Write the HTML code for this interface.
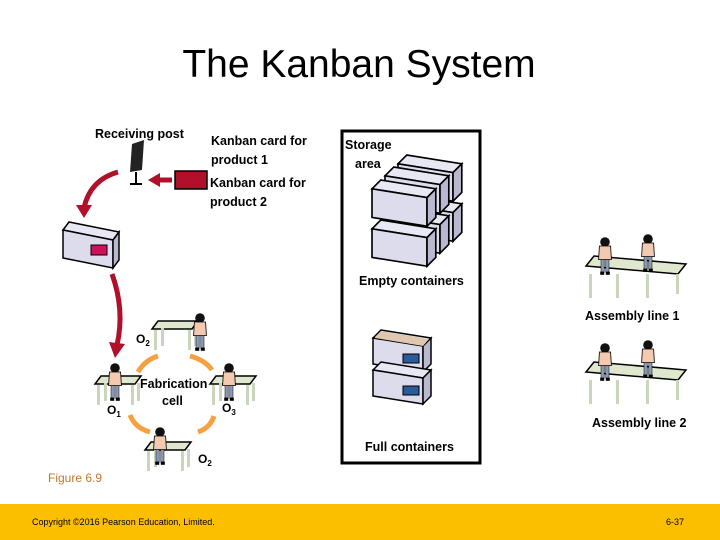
<!DOCTYPE html>
<html><head><meta charset="utf-8"><style>
html,body{margin:0;padding:0;background:#fff}
body{width:720px;height:540px;overflow:hidden;position:relative;font-family:"Liberation Sans",sans-serif}
svg{position:absolute;left:0;top:0}
</style></head><body>
<svg width="720" height="540" viewBox="0 0 720 540" xmlns="http://www.w3.org/2000/svg" font-family="Liberation Sans, sans-serif">
<defs>
<g id="box">
<polygon points="0,8 8,0 58,8 50,16" fill="#e8e8f4" stroke="#000" stroke-width="1.5"/>
<polygon points="0,8 50,16 50,42 0,34" fill="#dcdcec" stroke="#000" stroke-width="1.5"/>
<polygon points="50,16 58,8 58,34 50,42" fill="#b8b8d0" stroke="#000" stroke-width="1.5"/>
</g>
<g id="table">
<polygon points="0,14 6,6 46,6 40,14" fill="#dfe8cf" stroke="#000" stroke-width="1.5"/>
<rect x="2" y="15" width="3" height="20" fill="#c9d6bb"/><rect x="36" y="15" width="3" height="20" fill="#c9d6bb"/>
<rect x="9" y="13" width="3" height="18" fill="#c9d6bb"/><rect x="42" y="13" width="3" height="18" fill="#c9d6bb"/>
</g>
<g id="worker">
<circle cx="0" cy="0" r="6" fill="#111"/>
<path d="M-7,5 L7,5 L8,22 L-8,22Z" fill="#f3c9b0" stroke="#000"/>
<rect x="-5" y="22" width="4" height="16" fill="#8a9ab8" stroke="#000" stroke-width=".6"/>
<rect x="1" y="22" width="4" height="16" fill="#8a9ab8" stroke="#000" stroke-width=".6"/>
<rect x="-6" y="37" width="5" height="4" fill="#000"/><rect x="1" y="37" width="5" height="4" fill="#000"/>
</g>
</defs>
<text x="359" y="77" font-size="39" text-anchor="middle" fill="#000">The Kanban System</text>
<g font-size="12.5" font-weight="bold" fill="#000">
<text x="95" y="138">Receiving post</text>
<text x="211" y="145">Kanban card for</text>
<text x="211" y="164">product 1</text>
<text x="210" y="187">Kanban card for</text>
<text x="210" y="206">product 2</text>
<text x="345" y="149">Storage</text>
<text x="355" y="168">area</text>
<text x="359" y="285">Empty containers</text>
<text x="585" y="320">Assembly line 1</text>
<text x="592" y="427">Assembly line 2</text>
<text x="365" y="451">Full containers</text>
<text x="140" y="388">Fabrication</text>
<text x="162" y="405">cell</text>
<text x="136" y="343" font-size="12">O<tspan font-size="8" dy="3">2</tspan></text>
<text x="107" y="414" font-size="12">O<tspan font-size="8" dy="3">1</tspan></text>
<text x="222" y="412" font-size="12">O<tspan font-size="8" dy="3">3</tspan></text>
<text x="198" y="463" font-size="12">O<tspan font-size="8" dy="3">2</tspan></text>
</g>
<text x="48" y="482" font-size="12" fill="#c07830">Figure 6.9</text>
<g transform="translate(128,140)">
<polygon points="4,4 16,0 14,30 2,32" fill="#222"/>
<line x1="8" y1="32" x2="8" y2="44" stroke="#000" stroke-width="2"/>
<line x1="2" y1="44" x2="14" y2="44" stroke="#000" stroke-width="2"/>
</g>
<rect x="175" y="171" width="32" height="18" fill="#b0102a" stroke="#000" stroke-width="1.5"/>
<path d="M172,180 L158,180" stroke="#b0102a" stroke-width="5"/>
<polygon points="148,180 160,173 160,187" fill="#b0102a"/>
<path d="M118,172 Q90,180 84,208" fill="none" stroke="#b0102a" stroke-width="5"/>
<polygon points="76,205 92,205 84,218" fill="#b0102a"/>
<path d="M112,274 Q125,310 117,345" fill="none" stroke="#b0102a" stroke-width="5"/>
<polygon points="109,342 125,344 115,358" fill="#b0102a"/>
<g transform="translate(63,220)">
<polygon points="0,10 6,2 56,12 50,20" fill="#e8e8f4" stroke="#000" stroke-width="1.5"/>
<polygon points="0,10 50,20 50,48 0,38" fill="#dcdcec" stroke="#000" stroke-width="1.5"/>
<polygon points="50,20 56,12 56,40 50,48" fill="#b8b8d0" stroke="#000" stroke-width="1.5"/>
<rect x="28" y="25" width="16" height="10" fill="#d0105a" stroke="#000"/>
</g>
<rect x="342" y="131" width="138" height="332" fill="none" stroke="#000" stroke-width="3"/>
<g transform="translate(398,155) scale(1.1)"><use href="#box"/></g>
<g transform="translate(398,195) scale(1.1)"><use href="#box"/></g>
<g transform="translate(385,167) scale(1.1)"><use href="#box"/></g>
<g transform="translate(385,207) scale(1.1)"><use href="#box"/></g>
<g transform="translate(372,180) scale(1.1)"><use href="#box"/></g>
<g transform="translate(372,220) scale(1.1)"><use href="#box"/></g>
<g transform="translate(373,330)"><use href="#box"/><rect x="30" y="24" width="16" height="9" fill="#2a5a9a" stroke="#000"/></g>
<g transform="translate(373,362)"><use href="#box"/><rect x="30" y="24" width="16" height="9" fill="#2a5a9a" stroke="#000"/></g>
<polygon points="375,338 381,331 429,339 423,346" fill="#e0c8b0"/>
<g transform="translate(152,315)"><use href="#table"/></g><g transform="translate(200,318) scale(.8)"><use href="#worker"/></g>
<g transform="translate(95,370)"><use href="#table"/></g><g transform="translate(115,368) scale(.8)"><use href="#worker"/></g>
<g transform="translate(210,370)"><use href="#table"/></g><g transform="translate(229,368) scale(.8)"><use href="#worker"/></g>
<g transform="translate(145,436)"><use href="#table"/></g><g transform="translate(160,432) scale(.8)"><use href="#worker"/></g>
<g fill="none" stroke="#f7a040" stroke-width="5">
<path d="M138,372 Q145,360 158,356"/><path d="M190,356 Q205,360 212,370"/>
<path d="M130,415 Q135,428 150,432"/><path d="M198,432 Q210,428 214,416"/>
</g>
<g transform="translate(586,246)"><polygon points="0,20 8,10 100,18 92,28" fill="#dfe8cf" stroke="#000" stroke-width="1.5"/>
<rect x="3" y="28" width="3" height="24" fill="#c9d6bb"/><rect x="30" y="28" width="3" height="24" fill="#c9d6bb"/><rect x="60" y="28" width="3" height="24" fill="#c9d6bb"/><rect x="90" y="28" width="3" height="20" fill="#c9d6bb"/></g>
<g transform="translate(605,242) scale(.8)"><use href="#worker"/></g><g transform="translate(648,239) scale(.8)"><use href="#worker"/></g>
<g transform="translate(586,352)"><polygon points="0,20 8,10 100,18 92,28" fill="#dfe8cf" stroke="#000" stroke-width="1.5"/>
<rect x="3" y="28" width="3" height="24" fill="#c9d6bb"/><rect x="30" y="28" width="3" height="24" fill="#c9d6bb"/><rect x="60" y="28" width="3" height="24" fill="#c9d6bb"/><rect x="90" y="28" width="3" height="20" fill="#c9d6bb"/></g>
<g transform="translate(605,348) scale(.8)"><use href="#worker"/></g><g transform="translate(648,345) scale(.8)"><use href="#worker"/></g>
<rect x="0" y="504" width="720" height="36" fill="#fbbf00"/>
<text x="32" y="525" font-size="9" fill="#000">Copyright ©2016 Pearson Education, Limited.</text>
<text x="666" y="525" font-size="9" fill="#000">6-37</text>
</svg>
</body></html>
